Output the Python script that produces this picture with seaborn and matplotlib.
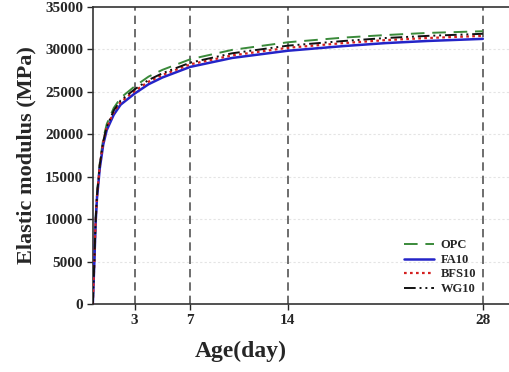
import numpy as np
import pandas as pd
import matplotlib
matplotlib.use('Agg')
import matplotlib.pyplot as plt
import seaborn as sns

# ages (days) and elastic modulus (MPa)
ages = [0, 0.1, 0.2, 0.3, 0.5, 0.75, 1, 1.5, 2, 3, 4, 5, 7, 10, 14, 18, 21, 24, 28]
opc = [0, 4700, 9900, 13000, 16600, 19500, 21200, 23100, 24300, 25650, 26800, 27600,
       28850, 29950, 30850, 31400, 31700, 31950, 32150]
fa10 = [0, 4500, 9500, 12500, 16000, 18800, 20500, 22300, 23500, 24800, 25900, 26700,
        27950, 29000, 29850, 30400, 30750, 31000, 31250]
bfs10 = [0, 4600, 9700, 12700, 16300, 19100, 20800, 22600, 23800, 25100, 26200, 27000,
         28250, 29300, 30200, 30750, 31100, 31350, 31600]
wg10 = [0, 4600, 9700, 12800, 16400, 19200, 20900, 22800, 24000, 25300, 26400, 27200,
        28450, 29550, 30450, 31000, 31350, 31600, 31850]

series_names = ['OPC', 'FA10', 'BFS10', 'WG10']
x_ticks = [3, 7, 14, 28]
y_ticks = [0, 5000, 10000, 15000, 20000, 25000, 30000, 35000]


def main():
    sns.set_style('white')
    plt.rcParams['font.family'] = ['Liberation Serif', 'DejaVu Serif']
    plt.rcParams['font.weight'] = 'bold'

    df = pd.DataFrame({'age': ages * 4,
                       'E': opc + fa10 + bfs10 + wg10,
                       'mix': np.repeat(series_names, len(ages))})

    fig = plt.figure(figsize=(5.1, 3.72), dpi=100)
    ax = fig.add_axes([0.182, 0.183, 0.818, 0.798])

    # faint horizontal grid
    for yv in y_ticks[1:-1]:
        ax.axhline(yv, color='#e4e4e4', lw=0.8, ls=(0, (2, 2)), zorder=0)
    # dashed age markers
    for xv in x_ticks:
        ax.axvline(xv, color='#555555', lw=1.2, ls=(0, (5, 3)), zorder=1)

    palette = {'OPC': '#3a8a3a', 'FA10': '#2424c8', 'BFS10': '#d42020', 'WG10': '#111111'}
    dashes = {'OPC': (7, 4), 'FA10': '', 'BFS10': (1.2, 1.5), 'WG10': (6, 2, 1, 2, 1, 2)}
    widths = {'OPC': 1.4, 'FA10': 1.8, 'BFS10': 1.6, 'WG10': 1.4}

    for name in series_names:
        sub = df[df['mix'] == name]
        sns.lineplot(data=sub, x='age', y='E', color=palette[name], lw=widths[name],
                     dashes=False, ax=ax, label=name, zorder=3)
        line = ax.get_lines()[-1]
        if dashes[name]:
            line.set_dashes(dashes[name])

    ax.set_xlim(0, 29.95)
    ax.set_ylim(0, 35000)
    ax.set_xticks(x_ticks)
    ax.set_yticks(y_ticks)
    ax.tick_params(axis='both', labelsize=11, length=4, width=1, direction='out',
                   bottom=True, left=True)
    ax.tick_params(axis='y', pad=3)
    ax.tick_params(axis='x', pad=3)
    for lab in ax.get_xticklabels() + ax.get_yticklabels():
        lab.set_fontweight('bold')

    ax.set_xlabel('Age(day)', fontsize=17, fontweight='bold')
    ax.xaxis.set_label_coords(0.355, -0.125)
    ax.set_ylabel('Elastic modulus (MPa)', fontsize=16, fontweight='bold', labelpad=6)

    for side in ['left', 'top', 'bottom']:
        ax.spines[side].set_color('#333333')
        ax.spines[side].set_linewidth(1.2)
    ax.spines['right'].set_visible(False)

    leg = ax.legend(loc='upper left', bbox_to_anchor=(0.72, 0.255), frameon=False,
                    fontsize=9, handlelength=2.4, labelspacing=0.2, handletextpad=0.5)
    for t in leg.get_texts():
        t.set_fontweight('bold')

    fig.savefig('out.png', dpi=100)


if __name__ == '__main__':
    main()
